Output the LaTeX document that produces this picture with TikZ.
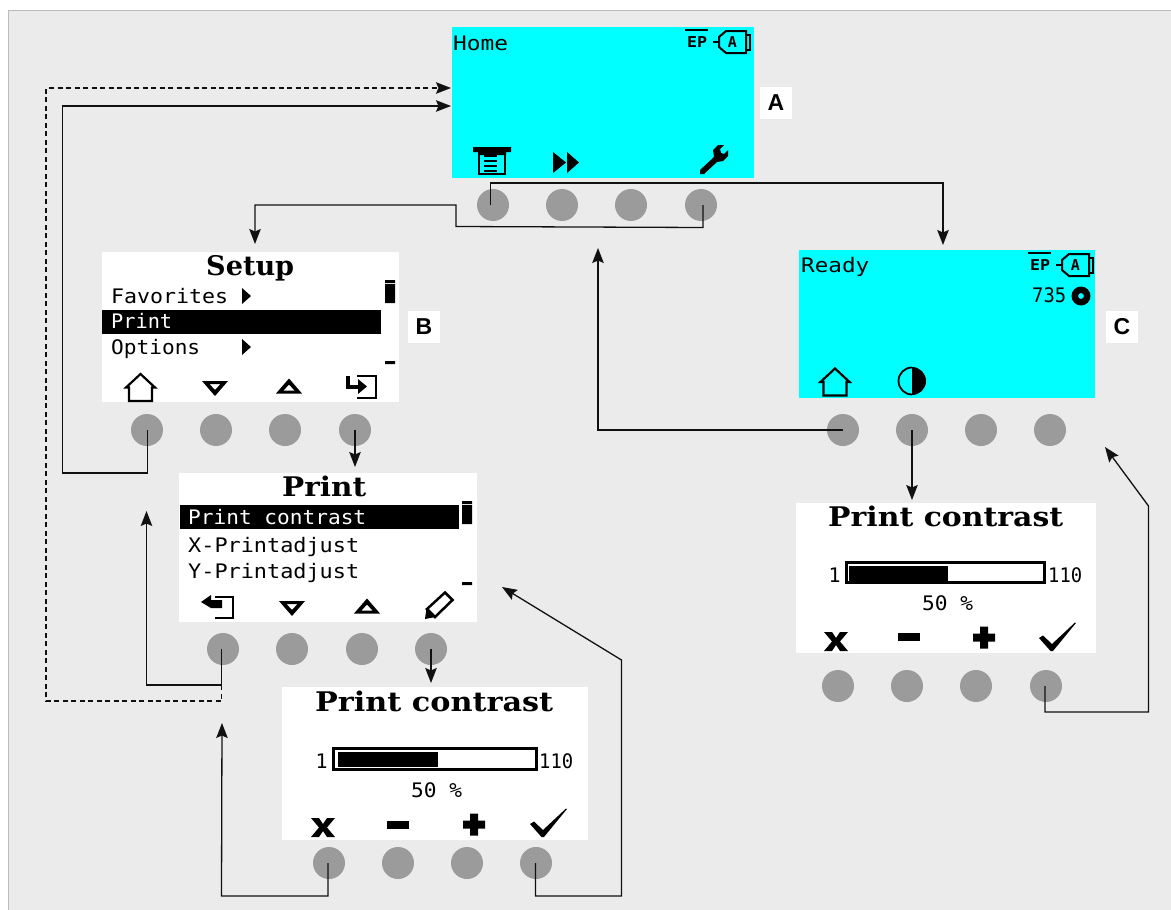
\documentclass[tikz,border=0pt]{standalone}
\usepackage{fontspec}
\usepackage{graphicx}
\usetikzlibrary{arrows.meta}
\newfontfamily\pixf{DejaVu Sans Mono}
\newfontfamily\ttlf{DejaVu Serif}
\newfontfamily\lblf{Liberation Sans}
\definecolor{bgc}{HTML}{EBEBEB}
\definecolor{edgec}{HTML}{BBBBBB}
\definecolor{btnc}{HTML}{9B9B9B}
\definecolor{conc}{HTML}{111111}
\definecolor{lcd}{HTML}{00FFFF}
\tikzset{
  screenbox/.style={fill=white,draw=none,inner sep=0pt,anchor=north west},
  cyanbox/.style={fill=lcd,draw=none,inner sep=0pt,anchor=north west},
  btn/.style={circle,fill=btnc,draw=none,minimum size=32pt,inner sep=0pt},
  conn/.style={draw=conc,line width=1.3pt},
  tip/.style={conn,-{Stealth[length=15pt,width=11.5pt,inset=2.5pt]}},
  dconn/.style={tip,dash pattern=on 5pt off 3.5pt},
  letter/.style={fill=white,minimum size=32pt,inner sep=0pt,font=\lblf\bfseries\fontsize{23}{23}\selectfont},
  txt/.style={inner sep=0pt,anchor=base west,text=black},
  ico/.style={draw=black,line width=2.2pt,miter limit=3},
}
% name, x, baseline, width, text
\newcommand{\body}[5]{\node[txt] (#1) at (#2,#3) {\resizebox{#4pt}{\height}{\pixf\fontsize{20}{20}\selectfont #5}};}
\newcommand{\heading}[5]{\node[txt] (#1) at (#2,#3) {\resizebox{#4pt}{\height}{\ttlf\bfseries\fontsize{27}{27}\selectfont #5}};}
\newcommand{\status}[2]{\begin{scope}[shift={(#1,#2)}]
  \fill (685,29) rectangle (708,31);
  \draw[line width=2pt] (713,42)--(719,42);
  \draw[line width=2pt] (719,37)--(726,31)--(746,31)--(746,53)--(726,53)--(719,47)--cycle;
  \draw[line width=2pt] (746,34.5)--(750,34.5)--(750,49.5)--(746,49.5);
\end{scope}}
\newcommand{\house}[2]{\draw[ico,shift={(#1,#2)}] (-11.5,13.5)--(-11.5,0)--(-14.5,0)--(0,-13.5)--(14.5,0)--(11.5,0)--(11.5,13.5)--cycle;}
\newcommand{\dntri}[2]{\fill[even odd rule,shift={(#1,#2)}] (-13,-7.5)--(13,-7.5)--(0,7.5)--cycle (-5.5,-4.5)--(5.5,-4.5)--(0,1.5)--cycle;}
\newcommand{\uptri}[2]{\fill[even odd rule,shift={(#1,#2)}] (-13,7.5)--(13,7.5)--(0,-7.5)--cycle (-5.5,4.5)--(5.5,4.5)--(0,-1.5)--cycle;}
\newcommand{\icoX}[2]{\begin{scope}[shift={(#1,#2)}]\fill (0,0)--(8,0)--(12,6)--(16,0)--(24,0)--(16,9.5)--(24,19)--(16,19)--(12,13)--(8,19)--(0,19)--(8,9.5)--cycle;\end{scope}}
\newcommand{\icoM}[2]{\fill (#1,#2) rectangle +(22,8);}
\newcommand{\icoP}[2]{\begin{scope}[shift={(#1,#2)}]\fill (-11,-4)--(-4,-4)--(-4,-11)--(4,-11)--(4,-4)--(11,-4)--(11,4)--(4,4)--(4,11)--(-4,11)--(-4,4)--(-11,4)--cycle;\end{scope}}
\newcommand{\icoC}[2]{\begin{scope}[shift={(#1,#2)}]\fill (0,0)--(4,-2.5)--(13,6)--(36,-15.5)--(36.8,-14.8)--(14,13)--(11.5,13)--cycle;\end{scope}}
\begin{document}
\begin{tikzpicture}[x=1pt,y=-1pt]
\useasboundingbox (0,0) rectangle (1171,910);
\fill[white] (0,0) rectangle (1171,910);
\fill[bgc] (8,10) rectangle (1171,910);
\draw[edgec,line width=1.2pt] (8.5,910)--(8.5,10.5)--(1171,10.5);

% ---- screens
\node[cyanbox,minimum width=302pt,minimum height=151pt] (scrA) at (452,27) {};
\node[screenbox,minimum width=297pt,minimum height=150pt] (scrB) at (102,252) {};
\node[screenbox,minimum width=298pt,minimum height=149pt] (scrP) at (179,473) {};
\node[screenbox,minimum width=306pt,minimum height=153pt] (scrL) at (282,687) {};
\node[cyanbox,minimum width=296pt,minimum height=148pt] (scrC) at (799,250) {};
\node[screenbox,minimum width=300pt,minimum height=150pt] (scrR) at (796,503) {};

% ---- letters
\node[letter] (lA) at (776,103) {A};
\node[letter] (lB) at (424,327) {B};
\node[letter] (lC) at (1122,327) {C};

% ---- buttons
\foreach \n/\x in {a1/493,a2/562,a3/631,a4/701} \node[btn] (\n) at (\x,205) {};
\foreach \n/\x in {b1/147,b2/216,b3/285,b4/355} \node[btn] (\n) at (\x,430) {};
\foreach \n/\x in {p1/223,p2/292,p3/362,p4/431} \node[btn] (\n) at (\x,649) {};
\foreach \n/\x in {l1/329,l2/398,l3/467,l4/536} \node[btn] (\n) at (\x,863) {};
\foreach \n/\x in {c1/843,c2/912,c3/981,c4/1050} \node[btn] (\n) at (\x,430) {};
\foreach \n/\x in {r1/838,r2/907,r3/976,r4/1046} \node[btn] (\n) at (\x,686) {};

% ---- screen A
\body{tHome}{453}{50}{55}{Home}
\status{0}{0}
\node[txt] (tEPa) at (687,47) {\resizebox{20pt}{\height}{\pixf\bfseries\fontsize{15}{15}\selectfont EP}};
\node[txt,anchor=center] (tAa) at (732.5,42) {\pixf\bfseries\fontsize{15}{15}\selectfont A};
% printer
\fill (473,147)--(511,147)--(511,152)--(506,152)--(506,155)--(478,155)--(478,152)--(473,152)--cycle;
\draw[ico,line width=2.6pt] (479,150)--(479,174)--(505,174)--(505,150);
\draw[line width=2pt] (484,155.5)--(497,155.5) (484,160.5)--(497,160.5) (484,165.5)--(497,165.5) (484,170.5)--(497,170.5);
% fast forward
\fill (553,152)--(566,162.5)--(553,173)--cycle (567,152)--(579,162.5)--(567,173)--cycle;
% wrench
\fill (700,170)--(714,157)--(713,150)--(718,145)--(724,145)--(720,149)--(721,153)--(724,154)--(728,150)--(728,156)--(723,161)--(717,162)--(704,174)--(700,174)--cycle;

% ---- screen B
\heading{tSetup}{206}{275}{88}{Setup}
\body{tFav}{111}{303}{117}{Favorites}
\fill (102,310) rectangle (381,334);
\node[txt,text=white] (tPr) at (111,328) {\resizebox{61pt}{\height}{\pixf\fontsize{20}{20}\selectfont Print}};
\body{tOpt}{111}{354}{89}{Options}
\fill (242,288)--(251,296)--(242,304)--cycle (242,339)--(251,347)--(242,355)--cycle;
\fill (385,280) rectangle (395,283) (385,284) rectangle (395,303) (385,361) rectangle (395,364);
\house{140.5}{387.5}
\dntri{215}{388.5}
\uptri{289}{386}
\draw[ico] (357,376)--(376,376)--(376,398)--(357,398);
\draw[ico,line width=4pt] (348,376)--(348,386.5)--(359,386.5);
\fill (358,379)--(367,386.5)--(358,394)--cycle;

% ---- screen Print
\heading{tPrint}{282}{496}{84}{Print}
\fill (180,505) rectangle (459,529);
\node[txt,text=white] (tPc) at (188,524) {\resizebox{178pt}{\height}{\pixf\fontsize{20}{20}\selectfont Print contrast}};
\body{tX}{188}{552}{171}{X-Printadjust}
\body{tY}{188}{578}{171}{Y-Printadjust}
\fill (462,501) rectangle (472,504) (462,505) rectangle (472,524) (462,582) rectangle (472,585);
\draw[ico] (215,597)--(233,597)--(233,618)--(215,618);
\fill (201,602)--(211,595)--(211,600)--(222,600)--(222,608)--(211,608)--cycle;
\dntri{292}{608.5}
\uptri{367}{606}
\draw[ico,line width=2.5pt] (445,592.5)--(452.5,600)--(435,617)--(427,609)--cycle;
\fill (425,619)--(426.5,608)--(435.5,617)--cycle;

% ---- screen Print contrast, lower
\heading{tLt}{315}{711}{238}{Print contrast}
\draw[line width=2.6pt] (333.3,748.3) rectangle (536.7,769.7);
\fill (338,752) rectangle (438,767);
\body{tL1}{315.5}{768}{12}{1}
\body{tL110}{539}{768}{34}{110}
\body{tL50}{411}{797}{51}{50 \%}
\icoX{311}{818}
\icoM{387}{821}
\icoP{474}{824.5}
\icoC{530}{824}

% ---- screen C
\body{tReady}{801}{272}{68}{Ready}
\status{343}{223}
\node[txt] (tEPc) at (1030,270) {\resizebox{20pt}{\height}{\pixf\bfseries\fontsize{15}{15}\selectfont EP}};
\node[txt,anchor=center] (tAc) at (1075.5,265) {\pixf\bfseries\fontsize{15}{15}\selectfont A};
\body{t735}{1032}{302}{34}{735}
\fill[even odd rule] (1081,296) circle (9.5) (1081,296) circle (3);
\house{835}{382}
\draw[line width=1.8pt] (912,394.5) arc (90:270:13.5);
\fill (912,395) arc (90:-90:14) --cycle;

% ---- screen Print contrast, right
\heading{tRt}{828}{526}{235}{Print contrast}
\draw[line width=2.6pt] (846.3,562.3) rectangle (1044.7,582.7);
\fill (849,566) rectangle (948,581);
\body{tR1}{828.5}{582}{12}{1}
\body{tR110}{1048}{582}{34}{110}
\body{tR50}{922}{610}{51}{50 \%}
\icoX{824}{632}
\icoM{898}{633}
\icoP{984}{637.5}
\icoC{1039}{638}

% ---- free ends
\coordinate (tipAd) at (451,88);
\coordinate (tipAs) at (451,106);
\coordinate (tipB) at (255,244);
\coordinate (tipC) at (943,245);
\coordinate (tipA2) at (598,248);
\coordinate (tipP) at (146.5,511);
\coordinate (tipP2) at (222,723);
\coordinate (tipP3) at (502,587);
\coordinate (tipC2) at (1105,447);
\coordinate (bendP) at (221.5,685);

% ---- connectors
\draw[tip] ([xshift=-2.5pt]a1.center) -- (490.5,183) -- (943,183) -- (tipC);
\draw[tip] ([xshift=2pt]a4.center) -- (703,227.5) -- (456,226.5) -- (456,205) -- (255,205) -- (tipB);
\draw[tip] (c1.center) -- (598,430) -- (tipA2);
\draw[tip] (c2.center) -- (912,500);
\draw[tip] ([xshift=-1pt]r4.center) -- (1045,712) -- (1148.5,712) -- (1148.5,506) -- (tipC2);
\draw[tip] ([xshift=.5pt]b1.center) -- (147.5,473) -- (62.5,473) -- (62.5,106) -- (tipAs);
\draw[tip] (b4.center) -- (355,467);
\draw[conn] ([xshift=-1.5pt]p1.center) -- (bendP);
\draw[tip] (bendP) -- (146.5,685) -- (tipP);
\draw[dconn] (bendP) -- (221.5,701) -- (46,701) -- (46,88) -- (tipAd);
\draw[tip] (p4.center) -- (431,683);
\draw[tip] ([xshift=-1pt]l1.center) -- (328,896) -- (221.5,896) -- (tipP2);
\draw[tip] ([xshift=-.5pt]l4.center) -- (535.5,896) -- (621.5,896) -- (621.5,660) -- (tipP3);
\end{tikzpicture}
\end{document}
